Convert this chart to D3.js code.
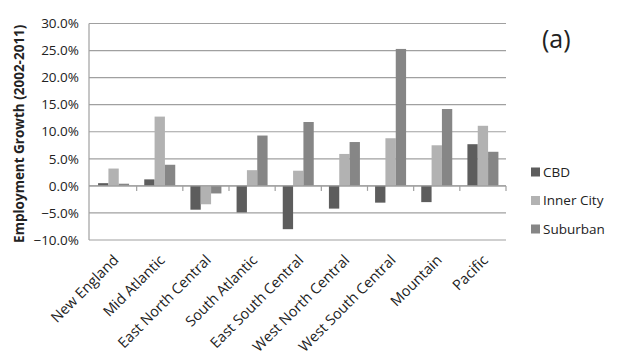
<!DOCTYPE html>
<html><head><meta charset="utf-8">
<script src="https://cdn.jsdelivr.net/npm/d3@7"></script>
<style>body{margin:0;background:#fff}text{font-family:"Open Sans","Liberation Sans",sans-serif}</style>
</head><body><svg id="c" width="620" height="357"></svg>
<script>
const categories = ["New England","Mid Atlantic","East North Central","South Atlantic","East South Central","West North Central","West South Central","Mountain","Pacific"];
const seriesNames = ["CBD","Inner City","Suburban"];
const cbd = [0.5,1.2,-4.4,-4.9,-8.0,-4.2,-3.1,-3.0,7.7];
const innerCity = [3.2,12.8,-3.4,2.9,2.8,5.9,8.8,7.5,11.1];
const suburban = [0.4,3.9,-1.4,9.3,11.8,8.1,25.3,14.2,6.3];
const yTicks = [-10,-5,0,5,10,15,20,25,30];
const colors = ["#5d5d5d","#b2b2b2","#868686"];
const seriesVals = [cbd, innerCity, suburban];

const svg = d3.select("#c");
const L = 90.5, R = 506, T = 23.5, B = 240;
const y = d3.scaleLinear().domain([-10,30]).range([B,T]);
const x = d3.scaleBand().domain(categories).range([L,R]);
const GW = 31;
const xs = d3.scaleBand().domain(seriesNames).range([0, GW]).paddingInner(0);

// gridlines
svg.append("g").selectAll("line").data(yTicks).join("line")
  .attr("x1",L-1.5).attr("x2",R).attr("y1",d=>y(d)).attr("y2",d=>y(d))
  .attr("stroke","#a0a0a0").attr("stroke-width",1.2);
// left axis line
svg.append("line").attr("x1",L-1.5).attr("x2",L-1.5).attr("y1",T).attr("y2",B).attr("stroke","#a0a0a0").attr("stroke-width",1.2);

// y tick labels
svg.append("g").selectAll("text").data(yTicks).join("text")
  .attr("x",79).attr("y",d=>y(d)).attr("dy","0.35em").attr("text-anchor","end")
  .attr("font-size",13.5).attr("fill","#222").text(d=>d3.format(".1f")(d)+"%");

// bars
const groups = svg.append("g").selectAll("g").data(categories).join("g")
  .attr("transform",(d)=>`translate(${x(d)+ (x.bandwidth()-GW)/2},0)`);
groups.selectAll("rect").data((d,i)=>seriesNames.map((s,j)=>({s,v:seriesVals[j][i],j})))
  .join("rect")
  .attr("x",d=>xs(d.s)).attr("width",xs.bandwidth())
  .attr("y",d=>y(Math.max(0,d.v))).attr("height",d=>Math.abs(y(d.v)-y(0)))
  .attr("fill",d=>colors[d.j]);

// zero axis with ticks
svg.append("line").attr("x1",L-1.5).attr("x2",R).attr("y1",y(0)).attr("y2",y(0)).attr("stroke","#a0a0a0").attr("stroke-width",1.2);
const tickXs = d3.range(1, categories.length).map(i=> x(categories[i])).concat([R]);
svg.append("g").selectAll("line").data(tickXs).join("line")
  .attr("x1",d=>d).attr("x2",d=>d).attr("y1",y(0)).attr("y2",y(0)+5)
  .attr("stroke","#a0a0a0").attr("stroke-width",1.2);

// x labels
svg.append("g").selectAll("text").data(categories).join("text")
  .attr("transform",d=>`translate(${x(d)+x.bandwidth()/2+6},${261}) rotate(-45)`)
  .attr("text-anchor","end").attr("font-size",14.5).attr("fill","#222").text(d=>d);

// y title
svg.append("text").attr("transform",`translate(24,${(T+B)/2+2}) rotate(-90)`)
  .attr("text-anchor","middle").attr("font-size",13.5).attr("font-weight","bold").attr("fill","#222")
  .text("Employment Growth (2002-2011)");

// legend
const lg = svg.append("g").selectAll("g").data(seriesNames).join("g")
  .attr("transform",(d,i)=>`translate(531,${172 + i*28.5})`);
lg.append("rect").attr("x",0).attr("y",-4.5).attr("width",9).attr("height",9).attr("fill",(d,i)=>colors[i]);
lg.append("text").attr("x",12).attr("dy","0.35em").attr("font-size",13.5).attr("fill","#222").text(d=>d);

// (a)
svg.append("text").attr("x",542).attr("y",48).attr("font-size",25).attr("fill","#222").text("(a)");
</script></body></html>
